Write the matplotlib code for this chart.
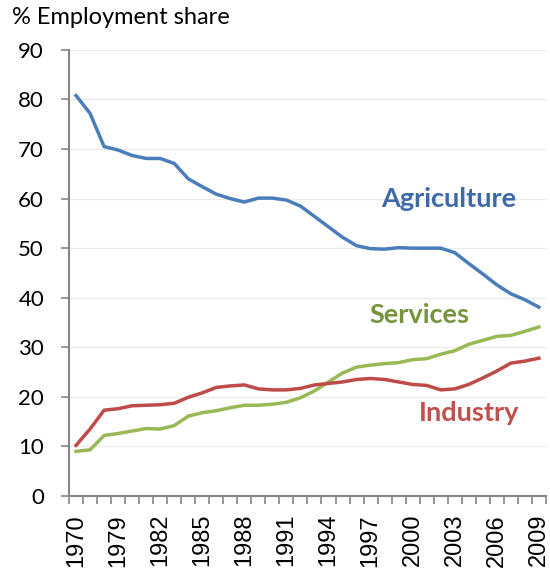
import matplotlib
matplotlib.use('Agg')
from matplotlib import pyplot as plt
from matplotlib.ticker import FixedLocator

# categories (the first three are hidden between labels)
YEARS = ['1970', '1975', '1978'] + [str(y) for y in range(1979, 2010)]

AGRICULTURE = [80.8, 77.2, 70.5, 69.8, 68.7, 68.1, 68.1, 67.1, 64.0, 62.4,
               60.9, 60.0, 59.3, 60.1, 60.1, 59.7, 58.5, 56.4, 54.3, 52.2,
               50.5, 49.9, 49.8, 50.1, 50.0, 50.0, 50.0, 49.1, 46.9, 44.8,
               42.6, 40.8, 39.6, 38.1]
INDUSTRY = [10.2, 13.5, 17.3, 17.6, 18.2, 18.3, 18.4, 18.7, 19.9, 20.8,
            21.9, 22.2, 22.4, 21.6, 21.4, 21.4, 21.7, 22.4, 22.7, 23.0,
            23.5, 23.7, 23.5, 23.0, 22.5, 22.3, 21.4, 21.6, 22.5, 23.8,
            25.2, 26.8, 27.2, 27.8]
SERVICES = [9.0, 9.3, 12.2, 12.6, 13.1, 13.6, 13.5, 14.2, 16.1, 16.8,
            17.2, 17.8, 18.3, 18.3, 18.5, 18.9, 19.8, 21.2, 23.0, 24.8,
            26.0, 26.4, 26.7, 26.9, 27.5, 27.7, 28.6, 29.3, 30.6, 31.4,
            32.2, 32.4, 33.2, 34.1]

AXIS_GREY = '#868686'


def main():
    fig = plt.figure(figsize=(5.5, 5.74), dpi=100)
    ax = fig.add_axes([0.1255, 0.136, 0.867, 0.777])

    x = list(range(len(YEARS)))
    ax.plot(x, AGRICULTURE, color='#4A7EBB', lw=2.5, solid_joinstyle='round')
    ax.plot(x, SERVICES, color='#98B954', lw=2.5, solid_joinstyle='round')
    ax.plot(x, INDUSTRY, color='#BE4B48', lw=2.5, solid_joinstyle='round')

    ax.set_xlim(-0.5, len(YEARS) - 0.5)
    ax.set_ylim(0, 90)
    ax.set_yticks(range(0, 91, 10))
    ax.grid(axis='y', color='#EBEBEB', lw=1)
    ax.set_axisbelow(True)

    # labels every third category, tick marks on category boundaries
    ax.xaxis.set_major_locator(FixedLocator(x[::3]))
    ax.set_xticklabels(YEARS[::3], rotation=90, fontsize=17,
                       family='Liberation Sans')
    ax.xaxis.set_minor_locator(FixedLocator([i - 0.5 for i in range(len(YEARS) + 1)]))
    ax.tick_params(axis='x', which='major', length=0, pad=13)
    ax.tick_params(axis='x', which='minor', length=6, color=AXIS_GREY, width=1.2)
    ax.tick_params(axis='y', length=6, color=AXIS_GREY, width=1.2, pad=12)
    for lab in ax.get_yticklabels():
        lab.set_fontsize(16)
        lab.set_family('Lato')

    for side in ['top', 'right']:
        ax.spines[side].set_visible(False)
    for side in ['left', 'bottom']:
        ax.spines[side].set_color(AXIS_GREY)
        ax.spines[side].set_linewidth(1.5)

    fig.text(12 / 550, 1 - 18 / 574, '% Employment share', fontsize=17,
             family='Lato', va='center', ha='left')

    ax.text(26.6, 60, 'Agriculture', color='#3E6AAA', fontsize=19.5,
            fontweight='bold', family='Lato', ha='center', va='center')
    ax.text(24.5, 36.6, 'Services', color='#77933C', fontsize=19.5,
            fontweight='bold', family='Lato', ha='center', va='center')
    ax.text(28.0, 16.7, 'Industry', color='#C0504D', fontsize=19.5,
            fontweight='bold', family='Lato', ha='center', va='center')

    plt.savefig('out.png', dpi=100)
    plt.close()


if __name__ == '__main__':
    main()
